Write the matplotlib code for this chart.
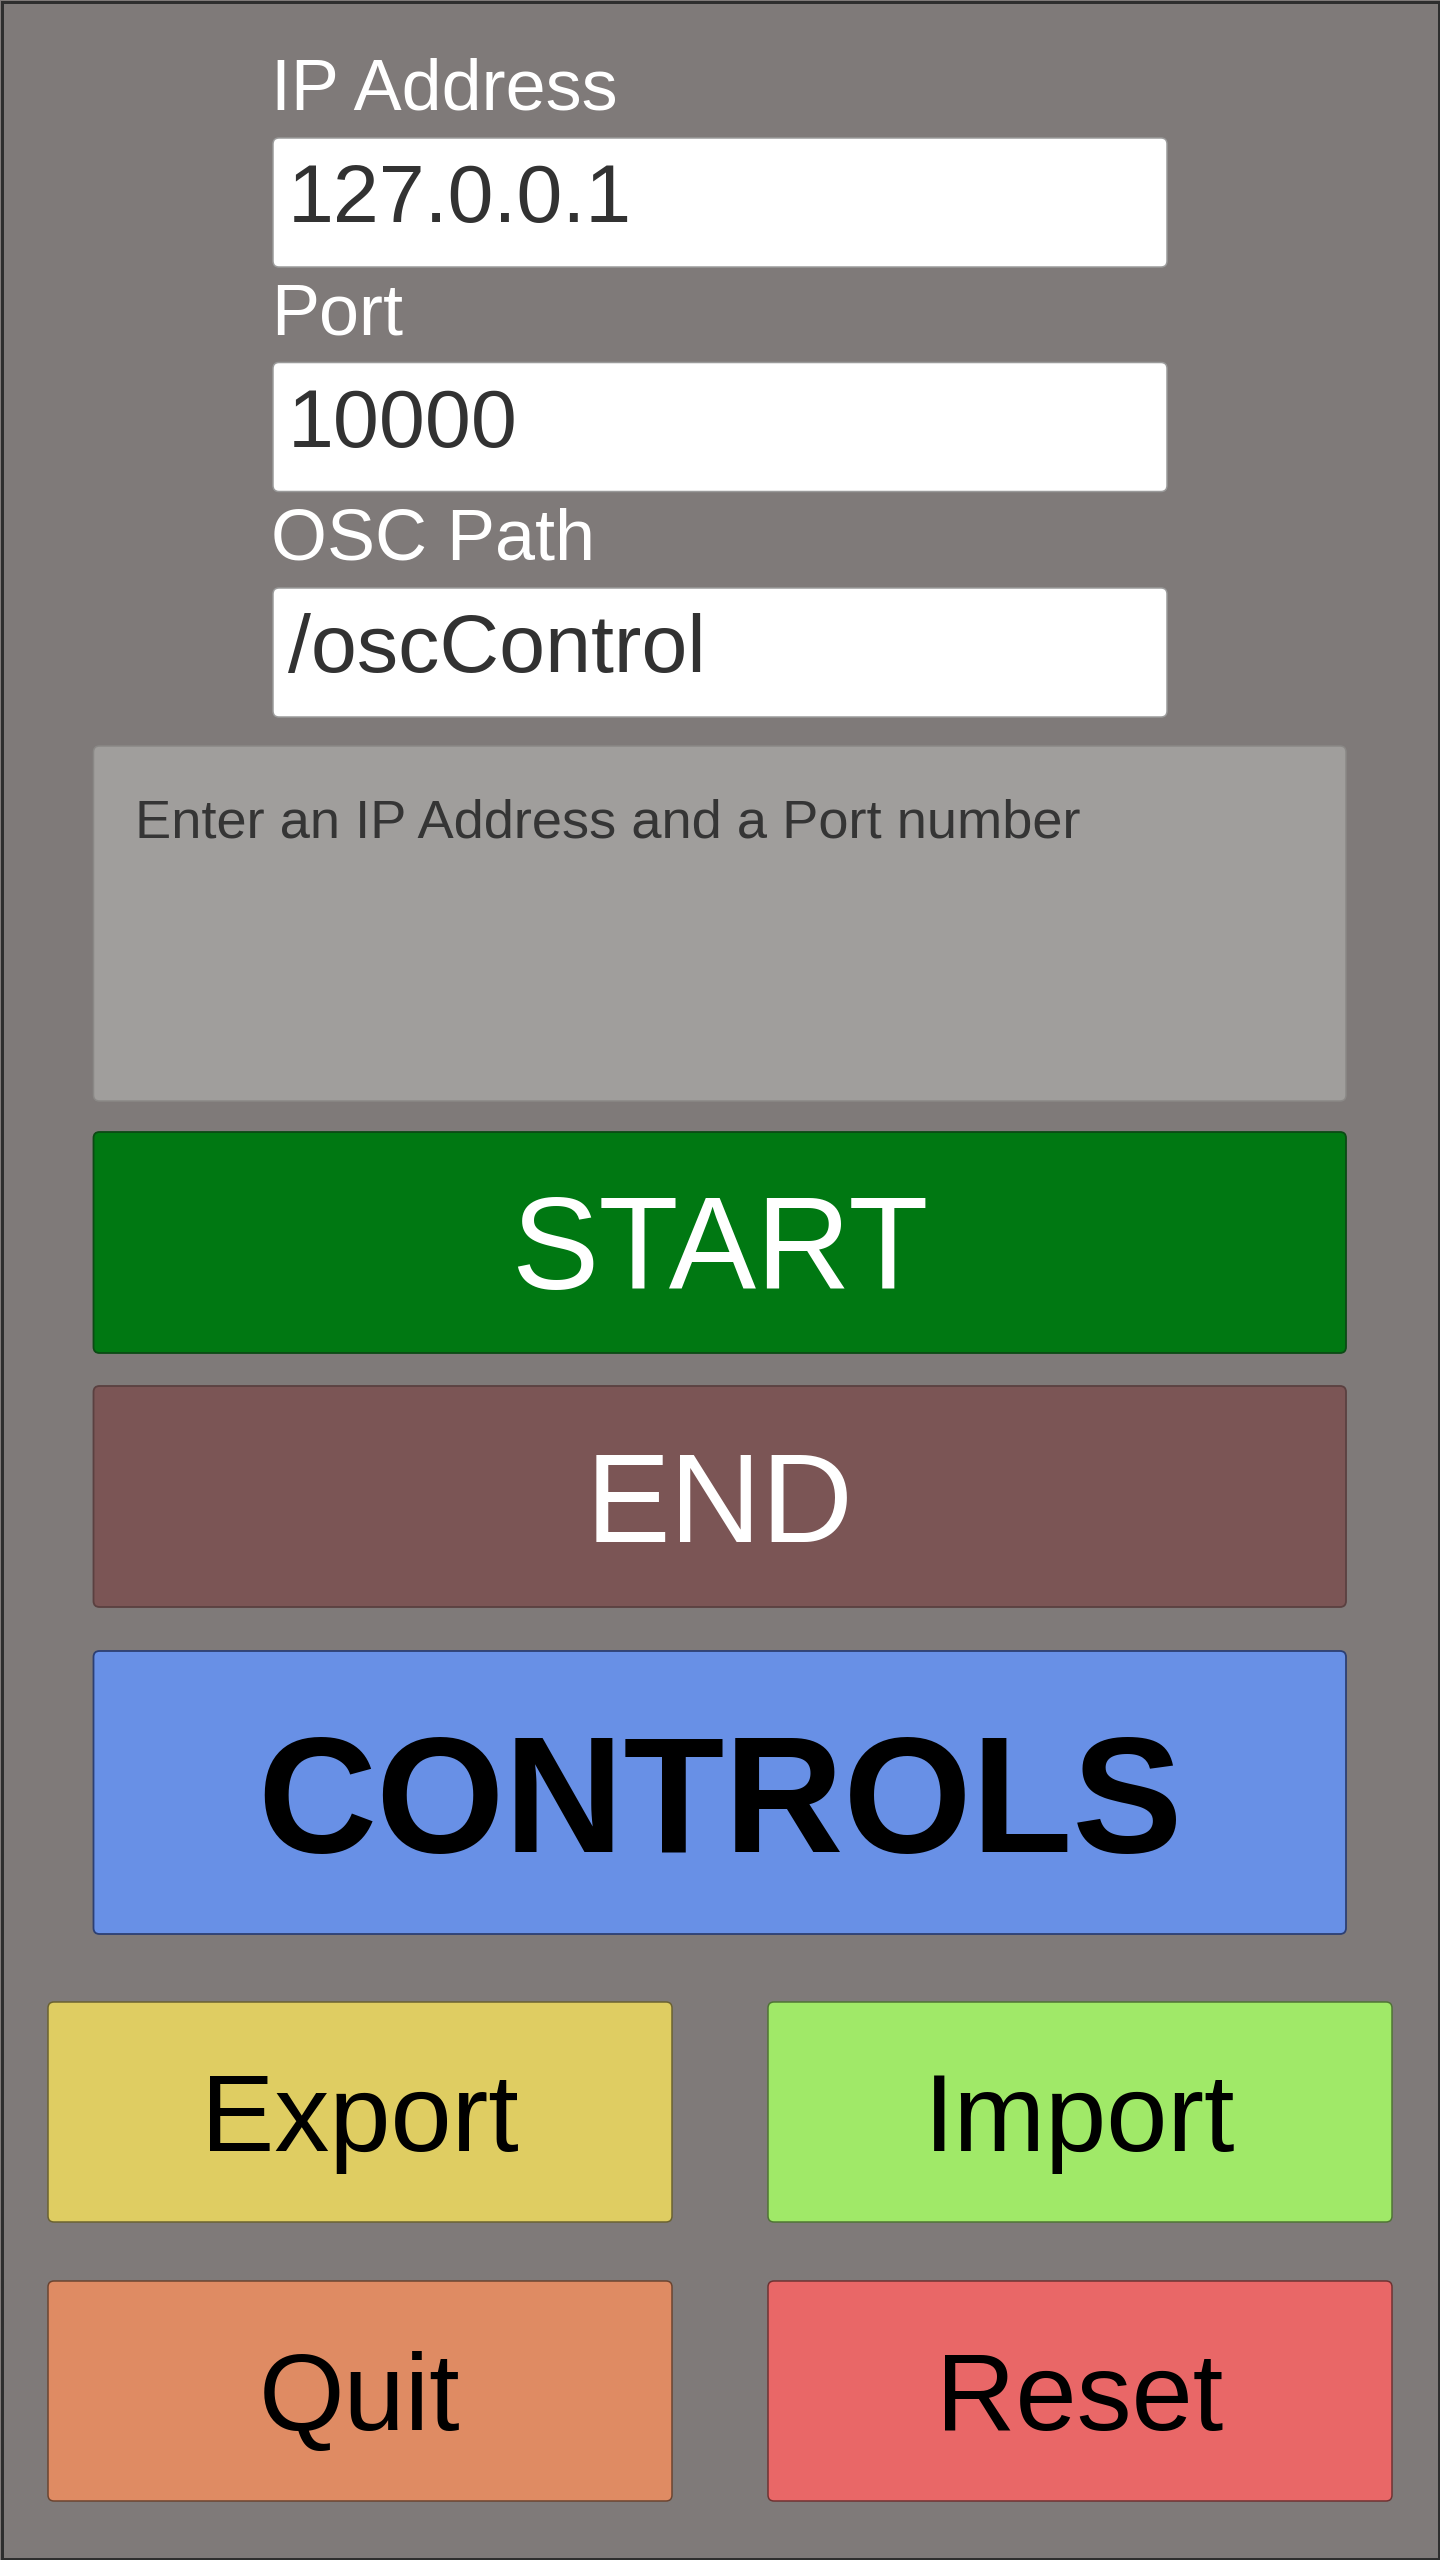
import matplotlib.pyplot as plt
from matplotlib.patches import FancyBboxPatch, Rectangle

# texts shown in the panel
field_labels = ["IP Address", "Port", "OSC Path"]
field_values = ["127.0.0.1", "10000", "/oscControl"]
status_text = "Enter an IP Address and a Port number"
wide_buttons = ["START", "END", "CONTROLS"]
grid_buttons = ["Export", "Import", "Quit", "Reset"]

# colours
BG = "#7f7a79"
wide_colors = ["#007812", "#7b5555", "#6890e6"]
wide_edges = ["#0b4a14", "#5a4040", "#2c3f73"]
wide_text_colors = ["white", "white", "black"]
grid_colors = ["#dfcd62", "#a0e968", "#df8b63", "#e96767"]
grid_edges = ["#6b6230", "#4f7434", "#6b4430", "#6e3232"]

FONT = "Liberation Sans"
PX = 72 / 100  # px -> pt at dpi 100
CAP = 0.716    # cap height / em


def box(ax, x0, y0, x1, y1, fc, ec, lw=1.5, r=7):
    ax.add_patch(FancyBboxPatch(
        (x0, y0), x1 - x0, y1 - y0,
        boxstyle=f"round,pad=0,rounding_size={r}",
        fc=fc, ec=ec, lw=lw * PX,
    ))


def centered_text(ax, x0, y0, x1, y1, s, em, color, weight="normal"):
    # centre the capital height inside the box
    base = (y0 + y1) / 2 + CAP * em / 2
    ax.text((x0 + x1) / 2, base, s, ha="center", va="baseline",
            fontsize=em * PX, color=color, family=FONT, fontweight=weight)


def main():
    fig = plt.figure(figsize=(14.4, 25.6), dpi=100)
    fig.patch.set_facecolor(BG)
    ax = fig.add_axes([0, 0, 1, 1])
    ax.set_xlim(0, 1440)
    ax.set_ylim(2560, 0)
    ax.axis("off")

    # outer frame
    ax.add_patch(Rectangle((1.5, 1.5), 1437, 2557, fc="none", ec="#2e2e2e", lw=3 * PX))

    # input fields
    field_tops = [138, 362.5, 588]
    field_h = 129
    for label, value, top in zip(field_labels, field_values, field_tops):
        ax.text(271, top - 28, label, ha="left", va="baseline",
                fontsize=72 * PX, color="white", family=FONT)
        box(ax, 273, top, 1167, top + field_h, "white", "#9a9a9a", lw=1.5, r=6)
        ax.text(288, top + 84, value, ha="left", va="baseline",
                fontsize=82.5 * PX, color="#323232", family=FONT)

    # status box
    box(ax, 93.5, 746, 1346, 1101, "#a09e9c", "#8a8886", lw=1.5, r=6)
    ax.text(135, 746 + 91.5, status_text, ha="left", va="baseline",
            fontsize=54.2 * PX, color="#353535", family=FONT)

    # wide buttons
    wide_rows = [(1132, 1353), (1386, 1607), (1651, 1934)]
    wide_em = [131, 127, 165]
    wide_weight = ["normal", "normal", "bold"]
    for name, (y0, y1), fc, ec, tc, em, wt in zip(
        wide_buttons, wide_rows, wide_colors, wide_edges, wide_text_colors, wide_em, wide_weight
    ):
        box(ax, 93.5, y0, 1346, y1, fc, ec, lw=1.8, r=6)
        centered_text(ax, 93.5, y0, 1346, y1, name, em, tc, wt)

    # 2x2 grid of buttons
    cols = [(48, 672), (768, 1392)]
    rows = [(2002, 2222), (2281, 2501)]
    for i, name in enumerate(grid_buttons):
        x0, x1 = cols[i % 2]
        y0, y1 = rows[i // 2]
        box(ax, x0, y0, x1, y1, grid_colors[i], grid_edges[i], lw=1.5, r=6)
        centered_text(ax, x0, y0, x1, y1, name, 110, "black")

    fig.savefig("out.png", dpi=100, facecolor=BG)


if __name__ == "__main__":
    main()
